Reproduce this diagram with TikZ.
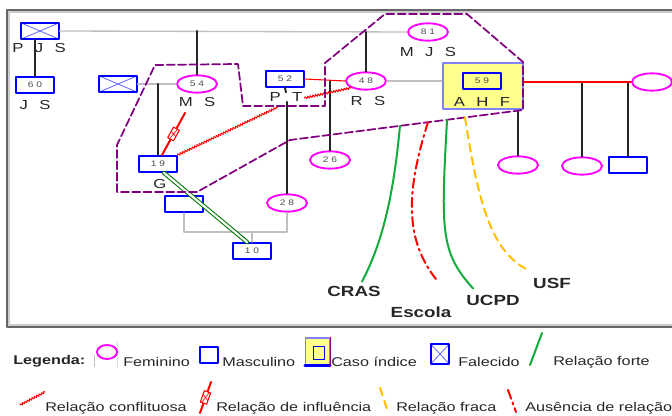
\documentclass[tikz,border=0pt]{standalone}
\usepackage{fontspec}
\setmainfont{Liberation Sans}[FakeStretch=1.28]
\usetikzlibrary{shapes.geometric,decorations.pathmorphing,calc}
\definecolor{rosa}{RGB}{255,0,255}
\definecolor{azul}{RGB}{0,0,255}
\definecolor{roxo}{RGB}{128,0,128}
\definecolor{verde}{RGB}{20,170,60}
\definecolor{verdeesc}{RGB}{0,120,0}
\definecolor{laranja}{RGB}{255,190,0}
\definecolor{amarelo}{RGB}{255,255,140}
\definecolor{lilas}{RGB}{130,130,255}
\newcommand\gp{\hspace{8.5pt}}
\newcommand\dg[2]{#1\hspace{2.2pt}#2}
\tikzset{
  fem/.style={ellipse,draw=rosa,line width=1.4pt,minimum width=30pt,minimum height=13pt,inner sep=0pt,font=\fontsize{6}{6}\selectfont,text=black!70},
  masc/.style={rectangle,draw=azul,line width=1.4pt,minimum width=28pt,minimum height=12pt,inner sep=0pt,font=\fontsize{6}{6}\selectfont,text=black!70},
  obito/.style={masc,path picture={\draw[azul!60,line width=0.6pt] (path picture bounding box.south west) -- (path picture bounding box.north east) (path picture bounding box.north west) -- (path picture bounding box.south east);}},
  indice/.style={rectangle,draw=lilas,fill=amarelo,line width=1.5pt,inner sep=0pt},
  nome/.style={font=\fontsize{9.8}{11}\selectfont,text=black!85,inner sep=0pt},
  servico/.style={font=\fontsize{11}{13}\selectfont\bfseries,text=black!85,inner sep=0pt},
  leg/.style={font=\fontsize{9.5}{11}\selectfont,text=black!85,inner sep=0pt,anchor=west},
  kin/.style={black!25,line width=1pt},
  desc/.style={black!85,line width=1.5pt},
  casa/.style={roxo,line width=1.3pt,dash pattern=on 6pt off 2.5pt},
  forte/.style={verde,line width=1.5pt},
  fraca/.style={laranja,line width=1.5pt,dash pattern=on 6pt off 4pt},
  ausencia/.style={red,line width=1.5pt,dash pattern=on 7pt off 3pt on 1.5pt off 3pt},
  conflito/.style={red,line width=0.7pt,decorate,decoration={zigzag,amplitude=0.8pt,segment length=2pt}},
  influencia/.style={red,line width=1.5pt},
  infl/.style={rectangle,draw=red,fill=white,line width=0.8pt,minimum width=9pt,minimum height=5pt,inner sep=0pt,
    path picture={\draw[red,line width=0.5pt] (path picture bounding box.south west) -- (path picture bounding box.north east) (path picture bounding box.north west) -- (path picture bounding box.south east);}}
}
\begin{document}
\begin{tikzpicture}[line cap=round,line join=round,x=0.75pt,y=-0.75pt]
  \useasboundingbox (0,0) rectangle (672,416);
  % moldura
  \draw[black!20,line width=1.5pt] (9,12) rectangle (681,325);
  \draw[black!60,line width=1pt] (7,10) rectangle (683,327);

  % pessoas
  \node[obito] (pjs) at (40,31) {};
  \node[nome] (pjsl) at (39,48) {P\gp J\gp S};
  \node[masc] (js60) at (35,85) {\dg60};
  \node[nome] (jsl) at (35,105) {J\gp S};
  \node[obito] (avo) at (118,84) {};
  \node[fem] (ms) at (197,84) {\dg54};
  \node[nome] (msl) at (197,102) {M\gp S};
  \node[masc] (g19) at (158,164) {\dg19};
  \node[nome] (gl) at (160,184) {G};
  \node[masc] (pt52) at (285,79) {\dg52};
  \node[nome] (ptl) at (286,97) {P\gp T};
  \node[fem] (rs) at (366,81) {\dg48};
  \node[nome] (rsl) at (368,101) {R\gp S};
  \node[fem] (mjs) at (428,32) {\dg81};
  \node[nome] (mjsl) at (428,52) {M\gp J\gp S};
  \node[fem] (f26) at (330,160) {\dg26};
  \node[fem] (f28) at (287,203) {\dg28};
  \node[masc] (m0) at (184,204) {};
  \node[masc] (s10) at (252,251) {\dg10};
  \node[indice,minimum width=60pt,minimum height=35pt] (ahf) at (482.5,86) {};
  \node[masc] (a59) at (482,81) {\dg59};
  \node[nome] (ahfl) at (482,102) {A\gp H\gp F};
  \node[fem] (fr) at (652,82) {};
  \node[fem] (c1) at (518,165) {};
  \node[fem] (c2) at (582,166) {};
  \node[masc] (c3) at (628,165) {};

  % lacos familiares
  \draw[kin] (pjs.east) -- (mjs.west);
  \draw[kin] (avo.east) -- (ms.west);
  \draw[kin] (rs.east) -- (rs.east -| ahf.west);
  \coordinate (uni) at (252,232);
  \draw[kin] (m0.south) |- (uni) -| (f28.south);
  \draw[kin] (uni) -- (s10.north);
  \draw[desc] (pjs.south -| js60.north) -- (js60.north);
  \draw[desc] (ms.north |- pjs.east) -- (ms.north);
  \draw[desc] (g19.north |- avo.east) -- (g19.north);
  \draw[desc] (pt52.south) -- (ptl.north);
  \draw[desc] (f28.north |- ptl.south) -- (f28.north);
  \draw[desc] (f26.north |- rs.west) -- (f26.north);
  \draw[desc] (rs.north |- mjs.west) -- (rs.north);
  \draw[desc] (c1.north |- ahf.south) -- (c1.north);
  \draw[desc] (c2.north |- fr.west) -- (c2.north);
  \draw[desc] (c3.north |- fr.west) -- (c3.north);
  \draw[red,line width=0.8pt] (fr.west -| ahf.east) -- (fr.west);

  % relacoes
  \draw[red,line width=0.8pt] (pt52.east) -- (rs.west);
  \draw[conflito] (g19.north east) -- ($(ptl.south west)+(9,5)$);
  \draw[conflito] ($(ptl.east)+(2,1)$) -- (rs.south west);
  \draw[influencia] ($(msl.south)+(-12,6)$) -- node[sloped,infl]{} ($(g19.north)+(4,0)$);
  \draw[verdeesc,line width=0.8pt,double=white,double distance=1.6pt] ($(g19.south)+(6,0)$) -- ($(s10.north)+(-5,0)$);

  % domicilio
  \coordinate (hb) at (523,110);
  \coordinate (hc) at (290,140);
  \draw[casa] (117,192) -- (117,145) -- (155,65) -- (238,64) -- (243,106) -- (325,106) -- (325,63)
    -- (385,14) -- (467,14) -- (523,62) -- (hb) -- (hc) -- (197,192) -- cycle;

  % rede de apoio
  \node[servico] (cras) at (354,291) {CRAS};
  \node[servico] (escola) at (421,312) {Escola};
  \node[servico] (ucpd) at (493,300) {UCPD};
  \node[servico] (usf) at (552,283) {USF};
  \coordinate (r1) at ($(hb)!0.528!(hc)$);
  \coordinate (r2) at ($(hb)!0.408!(hc)$);
  \coordinate (r3) at ($(hb)!0.326!(hc)$);
  \coordinate (r4) at ($(hb)!0.249!(hc)$);
  \draw[forte] (r1) .. controls (394,190) and (384,240) .. ($(cras.north)+(8,-4)$);
  \draw[ausencia] (r2) .. controls (410,180) and (400,235) .. ($(escola.north)+(16,-26)$);
  \draw[forte] (r3) .. controls (441,230) and (440,252) .. ($(ucpd.north west)+(7,-6)$);
  \draw[fraca] (r4) .. controls (478,200) and (490,250) .. ($(usf.north west)+(-6,-8)$);

  % legenda
  \node[leg,font=\fontsize{9.5}{11}\selectfont\bfseries] (legenda) at (13,361) {Legenda:};
  \draw[black!25,line width=0.6pt] (94,355) -- (94,367);
  \draw[black!15,line width=0.6pt] (117,342) -- (117,367);
  \node[fem,minimum width=15pt,minimum height=10.5pt] (lfem) at (107,352) {};
  \node[leg] (tfem) at (123,362) {Feminino};
  \node[masc,minimum width=13.5pt,minimum height=12.5pt] (lmasc) at (209,355) {};
  \node[leg] (tmasc) at (222,362) {Masculino};
  \node[indice,line width=1pt,minimum width=18pt,minimum height=20pt] (lind) at (317.5,351.5) {};
  \node[masc,line width=1.2pt,minimum width=8.5pt,minimum height=9.5pt] (lind2) at (319,353) {};
  \draw[azul,line width=2pt] (lind.south west) -- (lind.south east);
  \draw[roxo,line width=1pt] (lind.north east) -- (lind.south east);
  \node[leg] (tind) at (331,362) {Caso índice};
  \node[obito,minimum width=14pt,minimum height=15pt] (lobt) at (440,354) {};
  \node[leg] (tobt) at (458,362) {Falecido};
  \draw[forte] (542,333) -- (530,365);
  \node[leg] (tfor) at (553,362) {Relação forte};
  \draw[conflito] (20,405) -- (45,392);
  \node[leg] (tcon) at (45,408) {Relação conflituosa};
  \draw[influencia] (211,382) -- node[sloped,infl]{} (200,413);
  \node[leg] (tinf) at (216,408) {Relação de influência};
  \draw[fraca] (380,388) -- (388,412);
  \node[leg] (tfra) at (396,408) {Relação fraca};
  \draw[ausencia] (508,390) -- (516,412);
  \node[leg] (taus) at (525,408) {Ausência de relação};
\end{tikzpicture}
\end{document}
